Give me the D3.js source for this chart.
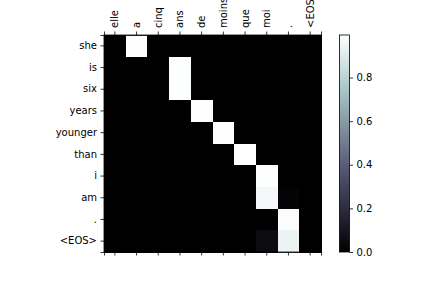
<!DOCTYPE html>
<html>
<head>
<meta charset="utf-8">
<script src="https://d3js.org/d3.v7.min.js"></script>
<style>
  body { margin: 0; background: #fff; }
  text { font-family: "DejaVu Sans", sans-serif; font-size: 10px; fill: #000; }
</style>
</head>
<body>
<div id="chart"></div>
<script>
// attention weights: rows = output words, cols = input words
var inputWords = ["elle", "a", "cinq", "ans", "de", "moins", "que", "moi", ".", "<EOS>"];
var outputWords = ["she", "is", "six", "years", "younger", "than", "i", "am", ".", "<EOS>"];
var weights = [
  [0, 0.99, 0, 0, 0, 0, 0, 0, 0, 0],
  [0, 0, 0, 0.99, 0, 0, 0, 0, 0, 0],
  [0, 0, 0, 0.99, 0, 0, 0, 0, 0, 0],
  [0, 0, 0, 0, 0.99, 0, 0, 0, 0, 0],
  [0, 0, 0, 0, 0, 0.99, 0, 0, 0, 0],
  [0, 0, 0, 0, 0, 0, 0.995, 0, 0, 0],
  [0, 0, 0, 0, 0, 0, 0, 0.99, 0, 0],
  [0, 0, 0, 0, 0, 0, 0, 0.965, 0.02, 0],
  [0, 0, 0, 0, 0, 0, 0, 0, 0.985, 0],
  [0, 0, 0, 0, 0, 0, 0, 0.05, 0.94, 0]
];
var cbTicks = [0.0, 0.2, 0.4, 0.6, 0.8];

var W = 432, H = 288;
var m = {left: 104, top: 35, size: 217};
var cb = {x: 339.5, w: 10};
var vmax = d3.max(weights, function (r) { return d3.max(r); });

// matplotlib "bone" colormap
var boneR = d3.scaleLinear().domain([0, 0.746032, 1]).range([0, 0.652778, 1]);
var boneG = d3.scaleLinear().domain([0, 0.365079, 0.746032, 1]).range([0, 0.319444, 0.777778, 1]);
var boneB = d3.scaleLinear().domain([0, 0.365079, 1]).range([0, 0.444444, 1]);
function bone(t) {
  t = Math.max(0, Math.min(1, t));
  return d3.rgb(boneR(t) * 255, boneG(t) * 255, boneB(t) * 255) + "";
}

var svg = d3.select("#chart").append("svg").attr("width", W).attr("height", H);

var x = d3.scaleBand().domain(d3.range(inputWords.length)).range([m.left, m.left + m.size]);
var y = d3.scaleBand().domain(d3.range(outputWords.length)).range([m.top, m.top + m.size]);

var cells = [];
weights.forEach(function (row, i) {
  row.forEach(function (v, j) { cells.push({i: i, j: j, v: v}); });
});

svg.append("g").selectAll("rect").data(cells).enter().append("rect")
  .attr("x", function (d) { return x(d.j); })
  .attr("y", function (d) { return y(d.i); })
  .attr("width", x.bandwidth() + 0.5)
  .attr("height", y.bandwidth() + 0.5)
  .attr("fill", function (d) { return bone(d.v / vmax); })
  .attr("shape-rendering", "crispEdges");

// top axis with rotated labels
var xTop = svg.append("g").attr("transform", "translate(0," + m.top + ")")
  .call(d3.axisTop(x).tickSize(3.5).tickPadding(3.5).tickFormat(function (d) { return inputWords[d]; }));
xTop.selectAll("text")
  .attr("transform", "rotate(-90)")
  .attr("x", 7).attr("y", 0).attr("dy", "0.35em")
  .style("text-anchor", "start");
xTop.selectAll("text").each(function () {
  var t = d3.select(this);
  var p = d3.select(this.parentNode);
  var tr = p.attr("transform");
  t.attr("transform", "rotate(-90)").attr("x", 7).attr("y", 0);
});

// bottom ticks, no labels
svg.append("g").attr("transform", "translate(0," + (m.top + m.size) + ")")
  .call(d3.axisBottom(x).tickSize(3.5).tickFormat(""));

// left axis
svg.append("g").attr("transform", "translate(" + m.left + ",0)")
  .call(d3.axisLeft(y).tickSize(3.5).tickPadding(3.5).tickFormat(function (d) { return outputWords[d]; }));

svg.selectAll(".domain").attr("stroke", "#000").attr("stroke-width", 0.8);
svg.selectAll(".tick line").attr("stroke", "#000").attr("stroke-width", 0.8);
svg.selectAll(".tick text").style("font-size", "10px").style("font-family", "DejaVu Sans, sans-serif").attr("fill", "#000");

// frame
svg.append("rect").attr("x", m.left).attr("y", m.top).attr("width", m.size).attr("height", m.size)
  .attr("fill", "none").attr("stroke", "#000").attr("stroke-width", 0.8);

// colorbar
var defs = svg.append("defs");
var grad = defs.append("linearGradient").attr("id", "cbg").attr("x1", 0).attr("y1", 1).attr("x2", 0).attr("y2", 0);
d3.range(0, 1.0001, 0.05).forEach(function (t) {
  grad.append("stop").attr("offset", t).attr("stop-color", bone(t));
});
svg.append("rect").attr("x", cb.x).attr("y", m.top).attr("width", cb.w).attr("height", m.size)
  .attr("fill", "url(#cbg)").attr("stroke", "#000").attr("stroke-width", 0.8);

var cbScale = d3.scaleLinear().domain([0, vmax]).range([m.top + m.size, m.top]);
var cbAxis = svg.append("g").attr("transform", "translate(" + (cb.x + cb.w) + ",0)")
  .call(d3.axisRight(cbScale).tickValues(cbTicks).tickSize(3.5).tickPadding(3.5).tickFormat(d3.format(".1f")));
cbAxis.select(".domain").remove();
cbAxis.selectAll("line").attr("stroke", "#000").attr("stroke-width", 0.8);
cbAxis.selectAll("text").style("font-size", "10px").style("font-family", "DejaVu Sans, sans-serif").attr("fill", "#000");
</script>
</body>
</html>
